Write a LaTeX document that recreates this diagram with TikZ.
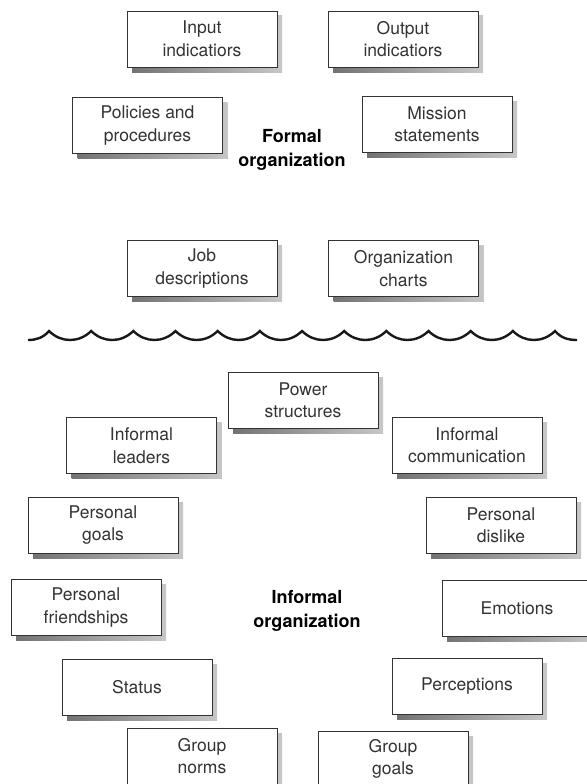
\documentclass[tikz,border=0pt]{standalone}
\usepackage{fontspec}
\setmainfont{TeX Gyre Heros}
\usepackage{tikz}
\usetikzlibrary{shadows}

\begin{document}
\begin{tikzpicture}[
  x=1pt, y=-1pt,
  font=\fontsize{17.5}{22.5}\selectfont,
  trait/.style={draw=black!80, line width=0.9pt, fill=white, text=black!80,
    minimum width=150pt, minimum height=56pt, inner sep=0pt, align=center,
    drop shadow={shadow xshift=5pt, shadow yshift=-5pt, opacity=1,
      left color=black!55, right color=black!22, draw=none}},
  heading/.style={font=\fontsize{18}{24}\selectfont\bfseries, align=center, text=black},
  wave/.style={line width=2.4pt, black!90}
]
\useasboundingbox (0,0) rectangle (586,784);

% formal side
\node[trait] (input) at (202,39) {Input\\indicatiors};
\node[trait] (output) at (403,39) {Output\\indicatiors};
\node[trait] (policies) at (147.5,125.5) {Policies and\\procedures};
\node[heading] (formal) at (292,150) {Formal\\organization};
\node[trait] (mission) at (437,124.5) {Mission\\statements};
\node[trait] (jobs) at (202,268.5) {Job\\descriptions};
\node[trait] (charts) at (403.5,268.5) {Organization\\charts};

% dividing wave
\draw[wave] (28,340) .. controls (36,340) and (43,338) .. (49,331)
  \foreach \k in {0,...,11} {
    .. controls ({49+42.17*\k+12},343) and ({49+42.17*\k+30},343) .. ({49+42.17*(\k+1)},331)
  }
  .. controls (561,338) and (568,340) .. (577,340);

% informal side
\node[trait] (power) at (303,400) {Power\\structures};
\node[trait] (leaders) at (141.5,445.5) {Informal\\leaders};
\node[trait] (communication) at (467,445) {Informal\\communication};
\node[trait] (pgoals) at (103,525) {Personal\\goals};
\node[trait] (dislike) at (501,525) {Personal\\dislike};
\node[heading] (informal) at (307,611) {Informal\\organization};
\node[trait] (friendships) at (86,607.5) {Personal\\friendships};
\node[trait] (emotions) at (517,608) {Emotions};
\node[trait] (status) at (137,687) {Status};
\node[trait] (perceptions) at (467,686) {Perceptions};
\node[trait] (norms) at (202,756) {Group\\norms};
\node[trait] (ggoals) at (393,759) {Group\\goals};
\end{tikzpicture}
\end{document}
